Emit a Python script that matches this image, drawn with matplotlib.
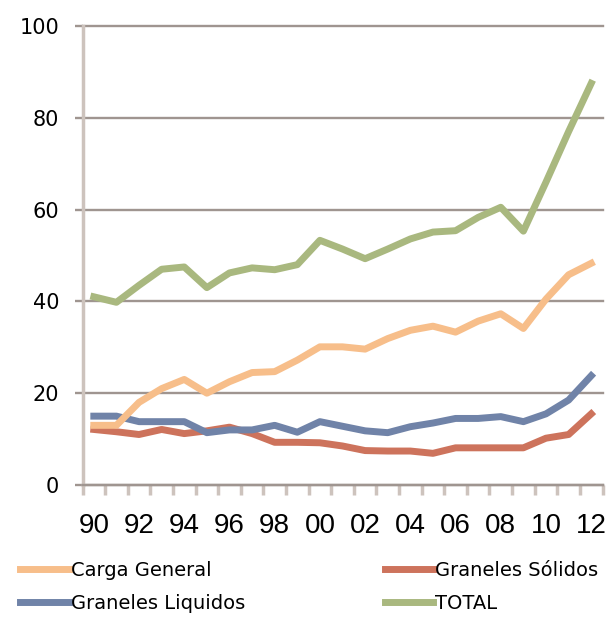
import matplotlib
matplotlib.use('Agg')
import matplotlib.pyplot as plt
from matplotlib import font_manager
from matplotlib.lines import Line2D

# years 1990-2012, only the even ones get a label
years = ['90', '91', '92', '93', '94', '95', '96', '97', '98', '99', '00', '01',
         '02', '03', '04', '05', '06', '07', '08', '09', '10', '11', '12']
carga = [13.0, 13.0, 18.0, 21.0, 23.0, 20.0, 22.5, 24.5, 24.7, 27.2, 30.1, 30.1,
         29.6, 31.9, 33.7, 34.6, 33.3, 35.7, 37.3, 34.1, 40.5, 45.8, 48.3]
solidos = [12.1, 11.6, 11.0, 12.1, 11.2, 11.8, 12.6, 11.2, 9.3, 9.3, 9.2, 8.5,
           7.5, 7.4, 7.4, 6.9, 8.1, 8.1, 8.1, 8.1, 10.2, 11.0, 15.5]
liquidos = [15.0, 15.0, 13.8, 13.8, 13.8, 11.4, 12.0, 12.0, 13.0, 11.5, 13.8, 12.8,
            11.8, 11.4, 12.7, 13.5, 14.5, 14.5, 14.9, 13.8, 15.5, 18.5, 23.8]
total = [41.0, 39.8, 43.5, 47.0, 47.5, 43.0, 46.2, 47.3, 46.9, 48.0, 53.3, 51.4,
         49.3, 51.4, 53.6, 55.1, 55.4, 58.3, 60.5, 55.3, 66.0, 77.0, 87.5]
yticks = [0, 20, 40, 60, 80, 100]

installed = {f.name for f in font_manager.fontManager.ttflist}
xfont = 'Liberation Sans Narrow' if 'Liberation Sans Narrow' in installed else 'Liberation Sans'

grid_c = '#9f9590'
axis_c = '#cdc3bd'

fig = plt.figure(figsize=(6.08, 6.18), dpi=100)
ax = fig.add_axes([0.1357, 0.2152, 0.991 - 0.1357, 0.958 - 0.2152])

x = list(range(len(years)))
lw = 5
ax.plot(x, solidos, color='#cd735c', lw=lw, solid_joinstyle='round', zorder=3)
ax.plot(x, liquidos, color='#7083a8', lw=lw, solid_joinstyle='round', zorder=4)
ax.plot(x, carga, color='#f7be8a', lw=lw, solid_joinstyle='round', zorder=5)
ax.plot(x, total, color='#a9b87f', lw=lw, solid_joinstyle='round', zorder=6)

ax.set_xlim(-0.5, len(years) - 0.5)
ax.set_ylim(0, 100)

# y axis: gridlines that stick out a bit to the left
ax.set_yticks(yticks)
ax.set_yticklabels([str(v) for v in yticks], fontsize=15, family='DejaVu Sans')
ax.tick_params(axis='y', length=5.8, width=1.7, color=grid_c, pad=11)
ax.yaxis.grid(True, color=grid_c, lw=1.7)
for gl in ax.get_ygridlines():
    gl.set_clip_on(False)
ax.set_axisbelow(True)

# x axis: labels on even years, tick marks between categories
ax.set_xticks(x[::2])
ax.set_xticklabels(years[::2], fontsize=20, family=xfont)
ax.tick_params(axis='x', length=0, pad=20)
ax.set_xticks([i - 0.5 for i in range(len(years) + 1)], minor=True)
ax.tick_params(axis='x', which='minor', length=7.5, width=2.5, color=axis_c)

for s in ['top', 'right']:
    ax.spines[s].set_visible(False)
ax.spines['left'].set_color(axis_c)
ax.spines['left'].set_linewidth(2.5)
ax.spines['bottom'].set_color(grid_c)
ax.spines['bottom'].set_linewidth(1.7)

handles = [Line2D([], [], color='#f7be8a', lw=5),
           Line2D([], [], color='#7083a8', lw=5),
           Line2D([], [], color='#cd735c', lw=5),
           Line2D([], [], color='#a9b87f', lw=5)]
labels = ['Carga General', 'Graneles Liquidos', 'Graneles Sólidos', 'TOTAL']
fig.legend(handles, labels, ncol=2, loc='upper left', bbox_to_anchor=(0.033, 0.093),
           frameon=False, handlelength=2.5, handletextpad=0.1,
           columnspacing=7.2, labelspacing=0.75, borderaxespad=0, borderpad=0,
           prop={'family': 'DejaVu Sans', 'size': 14})

fig.savefig('out.png', dpi=100)
